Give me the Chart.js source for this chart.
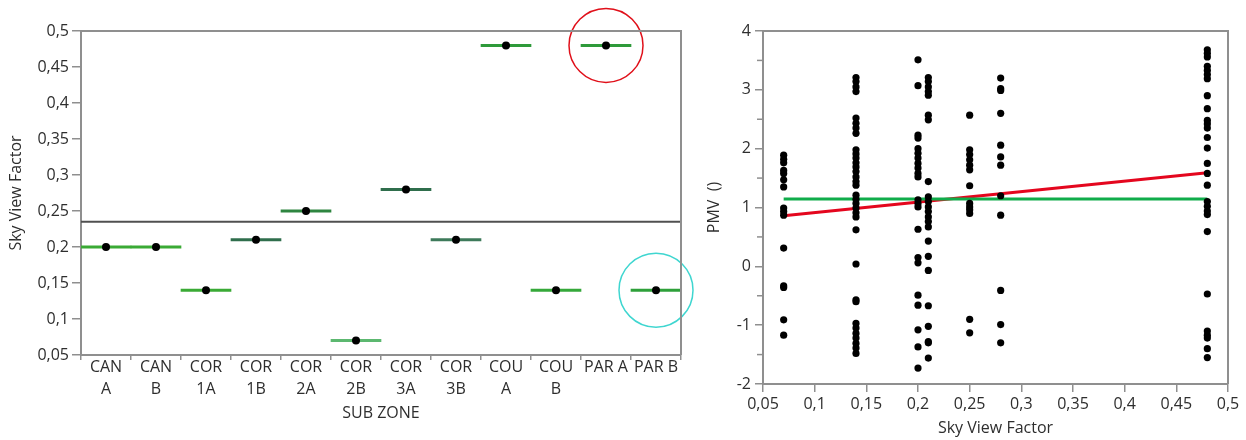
<!DOCTYPE html>
<html>
<head>
<meta charset="utf-8">
<script src="https://cdn.jsdelivr.net/npm/chart.js@4"></script>
<style>
  html, body { margin: 0; padding: 0; background: #ffffff; }
  #wrap { position: relative; width: 1246px; height: 440px; background: #ffffff; }
  #left { position: absolute; left: 0; top: 0; z-index: 2; }
  #right { position: absolute; left: 690px; top: 0; z-index: 1; }
</style>
</head>
<body>
<div id="wrap">
  <canvas id="left" width="700" height="440"></canvas>
  <canvas id="right" width="556" height="440"></canvas>
</div>
<script>
// ---------- DATA: left chart (Sky View Factor by sub zone) ----------
const subZones = [['CAN','A'],['CAN','B'],['COR','1A'],['COR','1B'],['COR','2A'],['COR','2B'],
                  ['COR','3A'],['COR','3B'],['COU','A'],['COU','B'],'PAR A','PAR B'];
const svfValues = [0.20, 0.20, 0.14, 0.21, 0.25, 0.07, 0.28, 0.21, 0.48, 0.14, 0.48, 0.14];
const svfMean = 0.235;
const highlightRed = 'PAR A';
const highlightCyan = 'PAR B';
const svfTicks = [0.05, 0.1, 0.15, 0.2, 0.25, 0.3, 0.35, 0.4, 0.45, 0.5];

// ---------- DATA: right chart (PMV vs Sky View Factor) ----------
const svfColumns = [0.07, 0.14, 0.20, 0.21, 0.25, 0.28, 0.48];
const pmv007 = [1.89, 1.82, 1.76, 1.63, 1.58, 1.47, 1.35, 0.99, 0.93, 0.87, 0.31, -0.33, -0.36, -0.91, -1.17];
const pmv014 = [3.21, 3.14, 3.05, 2.97, 2.52, 2.43, 2.35, 2.26, 1.98, 1.91, 1.84, 1.76, 1.69, 1.61, 1.52,
                1.44, 1.38, 1.21, 1.14, 1.07, 0.99, 0.91, 0.84, 0.62, 0.04, -0.57, -0.60, -0.97, -1.05,
                -1.14, -1.22, -1.31, -1.39, -1.48];
const pmv020 = [3.51, 3.07, 2.23, 2.18, 2.00, 1.92, 1.84, 1.75, 1.67, 1.58, 1.52, 1.13, 1.07, 1.01, 0.63,
                0.15, 0.06, -0.49, -0.66, -1.08, -1.37, -1.73];
const pmv021 = [3.21, 3.14, 3.05, 2.97, 2.91, 2.57, 2.49, 1.44, 1.18, 1.10, 1.01, 0.93, 0.84, 0.76, 0.67,
                0.43, 0.17, -0.07, -0.67, -1.02, -1.28, -1.30, -1.56];
const pmv025 = [2.57, 1.98, 1.90, 1.81, 1.72, 1.64, 1.37, 1.07, 1.01, 0.96, 0.90, -0.90, -1.13];
const pmv028 = [3.20, 3.02, 2.99, 2.60, 2.06, 1.86, 1.72, 1.20, 0.87, -0.41, -0.99, -1.30];
const pmv048 = [3.68, 3.62, 3.56, 3.40, 3.33, 3.26, 3.19, 2.90, 2.68, 2.48, 2.42, 2.35, 2.19, 2.01, 1.75,
                1.58, 1.38, 1.10, 1.02, 0.94, 0.88, 0.59, -0.47, -1.10, -1.17, -1.22, -1.40, -1.55];
const pmvByColumn = [pmv007, pmv014, pmv020, pmv021, pmv025, pmv028, pmv048];
const fitX = [0.07, 0.48];
const fitRegression = [0.86, 1.59];
const fitMean = [1.145, 1.145];
const pmvTicks = [-2, -1, 0, 1, 2, 3, 4];
const pmvMinorTicks = [-1.5, -0.5, 0.5, 1.5, 2.5, 3.5];
const svfXTicks = [0.05, 0.1, 0.15, 0.2, 0.25, 0.3, 0.35, 0.4, 0.45, 0.5];

// ---------- STYLE ----------
const FONT = "'Open Sans', 'Noto Sans', sans-serif";
const TXT = '#2e2e2e';
const AXIS = '#8f8f8f';
const barColors = ['#3aaa35','#3aaa35','#3aaa35','#2f6e4c','#2e8540','#5cb870',
                   '#2f6e4c','#3d7a5a','#2e9a3a','#35a83a','#2e9a3a','#2ea03a'];
const fmt = v => String(+Number(v).toFixed(2)).replace('.', ',');

const framePlugin = {
  id: 'frame',
  afterDraw(chart) {
    const {ctx, chartArea: a} = chart;
    ctx.save();
    ctx.strokeStyle = AXIS;
    ctx.lineWidth = 2;
    ctx.beginPath();
    ctx.moveTo(a.left, a.top);
    ctx.lineTo(a.right, a.top);
    ctx.lineTo(a.right, a.bottom);
    ctx.stroke();
    ctx.restore();
  }
};

// ---------- LEFT CHART ----------
const meanLinePlugin = {
  id: 'meanLine',
  beforeDatasetsDraw(chart) {
    const {ctx, chartArea: a, scales} = chart;
    const y = scales.y.getPixelForValue(svfMean);
    ctx.save();
    ctx.strokeStyle = '#505050';
    ctx.lineWidth = 2;
    ctx.beginPath();
    ctx.moveTo(a.left, y);
    ctx.lineTo(a.right, y);
    ctx.stroke();
    ctx.restore();
  }
};

new Chart(document.getElementById('left'), {
  type: 'bar',
  data: {
    labels: subZones,
    datasets: [
      {
        type: 'line',
        data: svfValues,
        showLine: false,
        pointRadius: 4,
        pointBackgroundColor: '#000',
        pointBorderColor: '#000',
        pointBorderWidth: 0,
        order: 1
      },
      {
        type: 'line',
        data: subZones.map((z, i) => (z === highlightRed || z === highlightCyan) ? svfValues[i] : null),
        showLine: false,
        pointRadius: 37,
        pointBackgroundColor: 'rgba(0,0,0,0)',
        pointBorderColor: subZones.map(z => z === highlightRed ? '#e0101a' : '#3fd6d0'),
        pointBorderWidth: 1.5,
        clip: false,
        order: 0
      },
      {
        type: 'bar',
        data: svfValues.map(v => [v - 0.0016, v + 0.0016]),
        backgroundColor: barColors,
        borderWidth: 0,
        barPercentage: 1,
        categoryPercentage: 1,
        order: 2
      }
    ]
  },
  options: {
    responsive: false,
    animation: false,
    events: [],
    layout: { autoPadding: false, padding: { left: 3, right: 19, top: 31, bottom: 13 } },
    plugins: { legend: { display: false }, tooltip: { enabled: false } },
    scales: {
      x: {
        type: 'category',
        offset: true,
        grid: { offset: true, drawOnChartArea: false, drawTicks: true, tickLength: 5, color: AXIS, lineWidth: 1.5 },
        border: { display: true, color: AXIS, width: 2 },
        ticks: { color: TXT, font: { family: FONT, size: 16, lineHeight: 1.375 }, padding: -4,
                 maxRotation: 0, minRotation: 0, autoSkip: false },
        title: { display: true, text: 'SUB ZONE', color: TXT, font: { family: FONT, size: 16 },
                 padding: { top: 0, bottom: 4 } },
        afterFit(s) { s.height = 72; }
      },
      y: {
        min: 0.05,
        max: 0.5,
        afterBuildTicks(s) { s.ticks = svfTicks.map(v => ({ value: v })); },
        grid: { drawOnChartArea: false, drawTicks: true, tickLength: 9, color: AXIS, lineWidth: 1.5 },
        border: { display: true, color: AXIS, width: 2 },
        ticks: { color: TXT, font: { family: FONT, size: 16 }, padding: 3, callback: v => fmt(v) },
        title: { display: true, text: 'Sky View Factor', color: TXT, font: { family: FONT, size: 16 },
                 padding: { top: 4, bottom: 0 } },
        afterFit(s) { s.width = 78; }
      }
    }
  },
  plugins: [meanLinePlugin, framePlugin]
});

// ---------- RIGHT CHART ----------
const minorTickPlugin = {
  id: 'minorTicks',
  afterDraw(chart) {
    const {ctx, chartArea: a, scales} = chart;
    ctx.save();
    ctx.strokeStyle = AXIS;
    ctx.lineWidth = 1.5;
    pmvMinorTicks.forEach(v => {
      const y = scales.y.getPixelForValue(v);
      ctx.beginPath();
      ctx.moveTo(a.left - 6, y);
      ctx.lineTo(a.left, y);
      ctx.stroke();
    });
    ctx.restore();
  }
};

const scatterPoints = [];
svfColumns.forEach((x, i) => pmvByColumn[i].forEach(y => scatterPoints.push({ x, y })));

new Chart(document.getElementById('right'), {
  type: 'scatter',
  data: {
    datasets: [
      {
        type: 'line',
        data: fitX.map((x, i) => ({ x, y: fitRegression[i] })),
        borderColor: '#e4061e',
        borderWidth: 3,
        pointRadius: 0,
        fill: false,
        order: 3
      },
      {
        type: 'line',
        data: fitX.map((x, i) => ({ x, y: fitMean[i] })),
        borderColor: '#10ac4a',
        borderWidth: 3,
        pointRadius: 0,
        fill: false,
        order: 2
      },
      {
        data: scatterPoints,
        pointRadius: 3.6,
        pointBackgroundColor: '#000',
        pointBorderColor: '#000',
        pointBorderWidth: 0,
        order: 1
      }
    ]
  },
  options: {
    responsive: false,
    animation: false,
    events: [],
    layout: { autoPadding: false, padding: { left: 11, right: 18, top: 31, bottom: 2 } },
    plugins: { legend: { display: false }, tooltip: { enabled: false } },
    scales: {
      x: {
        type: 'linear',
        min: 0.05,
        max: 0.5,
        afterBuildTicks(s) { s.ticks = svfXTicks.map(v => ({ value: v })); },
        grid: { drawOnChartArea: false, drawTicks: true, tickLength: 8, color: AXIS, lineWidth: 1.5 },
        border: { display: true, color: AXIS, width: 2 },
        ticks: { color: TXT, font: { family: FONT, size: 16 }, padding: 3, maxRotation: 0, callback: v => fmt(v) },
        title: { display: true, text: 'Sky View Factor', color: TXT, font: { family: FONT, size: 16 },
                 padding: { top: 0, bottom: 0 } },
        afterFit(s) { s.height = 54; }
      },
      y: {
        type: 'linear',
        min: -2,
        max: 4,
        afterBuildTicks(s) { s.ticks = pmvTicks.map(v => ({ value: v })); },
        grid: { drawOnChartArea: false, drawTicks: true, tickLength: 8, color: AXIS, lineWidth: 1.5 },
        border: { display: true, color: AXIS, width: 2 },
        ticks: { color: TXT, font: { family: FONT, size: 16 }, padding: 4, callback: v => fmt(v) },
        title: { display: true, text: 'PMV  ()', color: TXT, font: { family: FONT, size: 16 },
                 padding: { top: 4, bottom: 0 } },
        afterFit(s) { s.width = 62; }
      }
    }
  },
  plugins: [minorTickPlugin, framePlugin]
});
</script>
</body>
</html>
